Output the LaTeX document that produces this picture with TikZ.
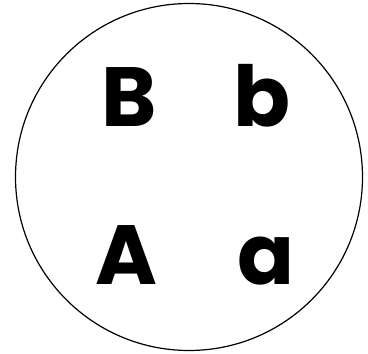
\documentclass[tikz,border=0pt]{standalone}
\usepackage{fontspec}
\setmainfont{Poppins}
\begin{document}
\begin{tikzpicture}[
        x=1pt, y=1pt,
        every node/.style={font=\fontsize{84}{84}\selectfont\bfseries, inner sep=0pt, anchor=base},
        cell/.style={draw, line width=1.2pt}
    ]
    \useasboundingbox (0,0) rectangle (368,354);
    \node[cell, circle, minimum size=347pt, anchor=center] (cell) at (189,177) {};
    \node (B) at (129,227) {B};
    \node (b) at (262,227) {b};
    \node (A) at (126,69) {A};
    \node (a) at (266,69) {a};
    \end{tikzpicture}
\end{document}
